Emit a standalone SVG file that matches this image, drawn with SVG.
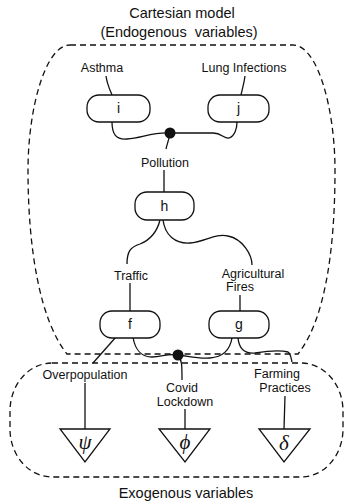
<svg xmlns="http://www.w3.org/2000/svg" width="345" height="503" viewBox="0 0 345 503">
<style>
.t{font-family:"Liberation Sans",Arial,sans-serif;font-size:12.5px;fill:#111;text-anchor:middle}
.tt{font-family:"Liberation Sans",Arial,sans-serif;font-size:14.5px;fill:#111;text-anchor:middle}
.n{font-family:"Liberation Sans",Arial,sans-serif;font-size:14px;fill:#111;text-anchor:middle}
.s{font-family:"Liberation Serif","Times New Roman",serif;font-style:italic;font-size:21px;fill:#111;text-anchor:middle}
.box{fill:#fff;stroke:#111;stroke-width:1.3}
.c{fill:none;stroke:#111;stroke-width:1.3}
.d{fill:none;stroke:#111;stroke-width:1.3;stroke-dasharray:6 4}
</style>
<g id="regions">
<path class="d" d="M70,45 L293,45 C318,45 335,110 335,170 C335,250 325,320 298,354 L67,354 C40,320 28,250 28,170 C28,110 45,45 70,45 Z"/>
<rect class="d" x="10" y="363" width="333" height="114" rx="42" ry="48"/>
<text class="tt" x="182" y="18">Cartesian model</text>
<text class="tt" x="179" y="37" xml:space="preserve">(Endogenous  variables)</text>
<text class="tt" x="186" y="498">Exogenous variables</text>
</g>
<g id="connectors">
<path class="c" d="M106,76 C107,84 110,90 112,95"/>
<path class="c" d="M245,76 C244,84 242,90 241,95"/>
<path class="c" d="M112,122 C112,134 116,140 127,139 C142,138 152,132 170,133"/>
<path class="c" d="M170,133 L213,133 C222,133 224,139 229,138 C235,136 237,128 237,122"/>
<path class="c" d="M170,133 C169,140 167,144 166,149"/>
<path class="c" d="M164,170 L164,192"/>
<path class="c" d="M160,220 C157,232 150,240 140,244 C130,247 127,252 127,264"/>
<path class="c" d="M163,220 C165,235 175,244 190,243 C205,242 215,233 228,236 C243,239 252,255 252,265"/>
<path class="c" d="M130,283 L130,311"/>
<path class="c" d="M240,295 L240,311"/>
<path class="c" d="M116,337 L93,363"/>
<path class="c" d="M133,337 C135,350 142,357 152,357 C162,357 168,353 178,355"/>
<path class="c" d="M232,338 C230,350 222,357 210,358 C198,359 188,356 178,355"/>
<path class="c" d="M238,338 C239,348 244,354 255,353 C268,351 280,350 288,352 C291,354 291,358 292,362"/>
<path class="c" d="M178,355 C182,360 182,365 182,380"/>
<path class="c" d="M85,383 L85,429"/>
<path class="c" d="M185,409 L185,429"/>
<path class="c" d="M285,396 L284,429"/>
<circle cx="170" cy="133" r="5.5" fill="#111"/>
<circle cx="178" cy="355" r="5.5" fill="#111"/>
</g>
<g id="label-asthma"><text class="t" x="102" y="72">Asthma</text></g>
<g id="label-lung"><text class="t" x="244" y="72">Lung Infections</text></g>
<g id="label-pollution"><text class="t" x="165" y="167">Pollution</text></g>
<g id="label-traffic"><text class="t" x="131" y="280">Traffic</text></g>
<g id="label-agri"><text class="t" x="253" y="278">Agricultural</text><text class="t" x="240" y="291">Fires</text></g>
<g id="label-overpop"><text class="t" x="85" y="379">Overpopulation</text></g>
<g id="label-covid"><text class="t" x="182" y="392">Covid</text><text class="t" x="185" y="406">Lockdown</text></g>
<g id="label-farming"><text class="t" x="277" y="378">Farming</text><text class="t" x="285" y="392">Practices</text></g>
<g id="node-i"><rect class="box" x="87" y="95" width="63" height="27" rx="12"/><text class="n" x="118.5" y="113">i</text></g>
<g id="node-j"><rect class="box" x="208" y="95" width="61" height="27" rx="12"/><text class="n" x="238.5" y="113">j</text></g>
<g id="node-h"><rect class="box" x="135" y="192" width="59" height="28" rx="12"/><text class="n" x="164.5" y="211">h</text></g>
<g id="node-f"><rect class="box" x="100" y="311" width="60" height="27" rx="12"/><text class="n" x="130" y="329">f</text></g>
<g id="node-g"><rect class="box" x="209" y="311" width="60" height="27" rx="12"/><text class="n" x="239" y="329">g</text></g>
<g id="node-psi"><path class="box" d="M60,429 L110,429 L85,462 Z"/><text class="s" x="85" y="449">ψ</text></g>
<g id="node-phi"><path class="box" d="M159,429 L210,429 L185,462 Z"/><text class="s" x="185" y="449">ϕ</text></g>
<g id="node-delta"><path class="box" d="M259,429 L310,429 L284,462 Z"/><text class="s" x="284" y="450">δ</text></g>
</svg>
